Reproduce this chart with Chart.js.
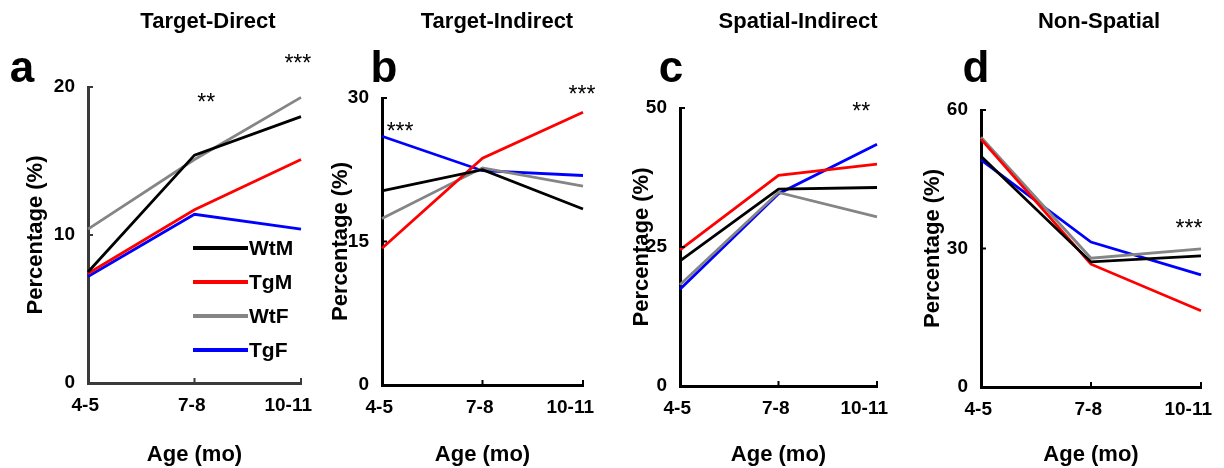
<!DOCTYPE html>
<html>
<head>
<meta charset="utf-8">
<script src="https://cdn.jsdelivr.net/npm/chart.js@4.4.1/dist/chart.umd.min.js"></script>
<style>
  body { margin: 0; background: #fff; }
  #wrap { position: relative; width: 1224px; height: 468px; overflow: hidden; background: #fff; }
  #wrap canvas { position: absolute; top: 0; }
</style>
</head>
<body>
<div id="wrap">
  <canvas id="chartA" width="346" height="468" style="left:0px"></canvas>
  <canvas id="chartB" width="318" height="468" style="left:310px"></canvas>
  <canvas id="chartC" width="322" height="468" style="left:600px"></canvas>
  <canvas id="chartD" width="346" height="468" style="left:900px"></canvas>
</div>
<script>
// categories and groups
const ages = ['4-5', '7-8', '10-11'];
const groups = ['WtM', 'TgM', 'WtF', 'TgF'];
const groupColors = ['#000000', '#ff0000', '#858585', '#0000ff'];

// Target-Direct (%)
const directWtM = [7.5, 15.4, 18.0];
const directTgM = [7.4, 11.7, 15.1];
const directWtF = [10.4, 15.1, 19.3];
const directTgF = [7.2, 11.4, 10.4];

// Target-Indirect (%)
const indirectWtM = [20.3, 22.5, 18.4];
const indirectTgM = [14.3, 23.7, 28.5];
const indirectWtF = [17.4, 22.7, 20.8];
const indirectTgF = [26.0, 22.4, 21.9];

// Spatial-Indirect (%)
const spatialWtM = [22.5, 35.4, 35.7];
const spatialTgM = [24.5, 37.9, 39.9];
const spatialWtF = [18.2, 34.8, 30.4];
const spatialTgF = [17.4, 34.6, 43.5];

// Non-Spatial (%)
const nonSpatialWtM = [50.0, 27.1, 28.4];
const nonSpatialTgM = [53.7, 26.6, 16.5];
const nonSpatialWtF = [54.1, 27.9, 29.9];
const nonSpatialTgF = [49.2, 31.4, 24.3];

const panelTitles = ['Target-Direct', 'Target-Indirect', 'Spatial-Indirect', 'Non-Spatial'];
const panelLetters = ['a', 'b', 'c', 'd'];
const yMaxes = [20, 30, 50, 60];

// significance marks: category position (index) and value height
const starsDirect = [{ text: '**', at: 1.11, value: 19.3 }, { text: '***', at: 1.97, value: 22.0 }];
const starsIndirect = [{ text: '***', at: 0.18, value: 27.1 }, { text: '***', at: 1.99, value: 31.0 }];
const starsSpatial = [{ text: '**', at: 1.84, value: 50.4 }];
const starsNonSpatial = [{ text: '***', at: 1.89, value: 35.5 }];

const FONT = 'Arial, "Liberation Sans", Helvetica, sans-serif';
Chart.defaults.font.family = FONT;
Chart.defaults.color = '#000';

// layout of each panel on the page
const layouts = [
  { id: 'chartA', left: 0,   area: [88, 301, 87, 383],  yTitlePad: 23, axisColor: '#3a3a3a', titleX: 208,  letterX: 22 },
  { id: 'chartB', left: 310, area: [382, 583, 98, 385], yTitlePad: 18, axisColor: '#000',    titleX: 497,  letterX: 384 },
  { id: 'chartC', left: 600, area: [680, 877, 108, 386], yTitlePad: 29, axisColor: '#000',   titleX: 798,  letterX: 671 },
  { id: 'chartD', left: 900, area: [981, 1201, 110, 387], yTitlePad: 20, axisColor: '#000',  titleX: 1099, letterX: 976 }
];

const panelData = [
  [directWtM, directTgM, directWtF, directTgF],
  [indirectWtM, indirectTgM, indirectWtF, indirectTgF],
  [spatialWtM, spatialTgM, spatialWtF, spatialTgF],
  [nonSpatialWtM, nonSpatialTgM, nonSpatialWtF, nonSpatialTgF]
];
const panelStars = [starsDirect, starsIndirect, starsSpatial, starsNonSpatial];

// titles, letters, stars, inward ticks and legend
const panelDecor = {
  id: 'panelDecor',
  afterDraw(chart, args, opts) {
    const ctx = chart.ctx;
    const { left, top, right, bottom } = chart.chartArea;
    const xs = chart.scales.x, ys = chart.scales.y;
    ctx.save();

    // inward tick marks
    ctx.strokeStyle = opts.axisColor;
    ctx.lineWidth = 2;
    ctx.beginPath();
    xs.ticks.forEach((t, i) => {
      const px = xs.getPixelForTick(i);
      ctx.moveTo(px, bottom);
      ctx.lineTo(px, bottom - 5);
    });
    ys.ticks.forEach(t => {
      const py = ys.getPixelForValue(t.value);
      ctx.moveTo(left, py);
      ctx.lineTo(left + 5, py);
    });
    ctx.stroke();

    // panel title and letter
    ctx.fillStyle = '#000';
    ctx.textAlign = 'center';
    ctx.textBaseline = 'alphabetic';
    ctx.font = 'bold 22px ' + FONT;
    ctx.fillText(opts.title, opts.titleX, 28);
    ctx.font = 'bold 44px ' + FONT;
    ctx.fillText(opts.letter, opts.letterX, 82);

    // significance stars
    ctx.font = '23px ' + FONT;
    opts.stars.forEach(s => {
      const px = xs.getPixelForValue(s.at);
      const py = ys.getPixelForValue(s.value);
      ctx.fillText(s.text, px, py + 23 * 0.57);
    });

    // legend (panel a only)
    if (opts.legend) {
      ctx.font = 'bold 21px ' + FONT;
      ctx.textAlign = 'left';
      ctx.textBaseline = 'middle';
      chart.data.datasets.forEach((ds, i) => {
        const y = top + 161 + i * 34;
        const x0 = left + 105;
        ctx.strokeStyle = ds.borderColor;
        ctx.lineWidth = 4;
        ctx.beginPath();
        ctx.moveTo(x0, y);
        ctx.lineTo(x0 + 55, y);
        ctx.stroke();
        ctx.fillStyle = '#000';
        ctx.fillText(ds.label, x0 + 56, y + 1);
      });
    }
    ctx.restore();
  }
};

layouts.forEach((lay, p) => {
  const [aL, aR, aT, aB] = lay.area;
  const canvas = document.getElementById(lay.id);
  const datasets = groups.map((g, i) => ({
    label: g,
    data: panelData[p][i],
    borderColor: groupColors[i],
    backgroundColor: groupColors[i],
    borderWidth: 2.8,
    pointRadius: 0,
    tension: 0,
    fill: false
  }));

  new Chart(canvas.getContext('2d'), {
    type: 'line',
    data: { labels: ages, datasets: datasets },
    options: {
      responsive: false,
      animation: false,
      events: [],
      layout: { padding: { left: 0, top: aT, right: canvas.width - (aR - lay.left), bottom: 0 } },
      plugins: {
        legend: { display: false },
        tooltip: { enabled: false },
        panelDecor: {
          title: panelTitles[p],
          letter: panelLetters[p],
          titleX: lay.titleX - lay.left,
          letterX: lay.letterX - lay.left,
          stars: panelStars[p],
          axisColor: lay.axisColor,
          legend: p === 0
        }
      },
      scales: {
        x: {
          offset: false,
          grid: { display: false, drawTicks: false },
          border: { display: true, color: lay.axisColor, width: 3 },
          ticks: { padding: 11, align: 'end', labelOffset: 11, maxRotation: 0, autoSkip: false, color: '#000', font: { size: 19, weight: 'bold' } },
          title: { display: true, text: 'Age (mo)', color: '#000', padding: { top: 0, bottom: 0 }, font: { size: 22, weight: 'bold' } },
          afterFit: (scale) => { scale.height = 468 - aB; }
        },
        y: {
          min: 0,
          max: yMaxes[p],
          grid: { display: false, drawTicks: false },
          border: { display: true, color: lay.axisColor, width: 3 },
          ticks: { stepSize: yMaxes[p] / 2, padding: 13, color: '#000', font: { size: 19, weight: 'bold' } },
          title: { display: true, text: 'Percentage (%)', color: '#000', padding: { top: lay.yTitlePad, bottom: 0 }, font: { size: 22, weight: 'bold' } },
          afterFit: (scale) => { scale.width = aL - lay.left; }
        }
      }
    },
    plugins: [panelDecor]
  });
});
</script>
</body>
</html>
